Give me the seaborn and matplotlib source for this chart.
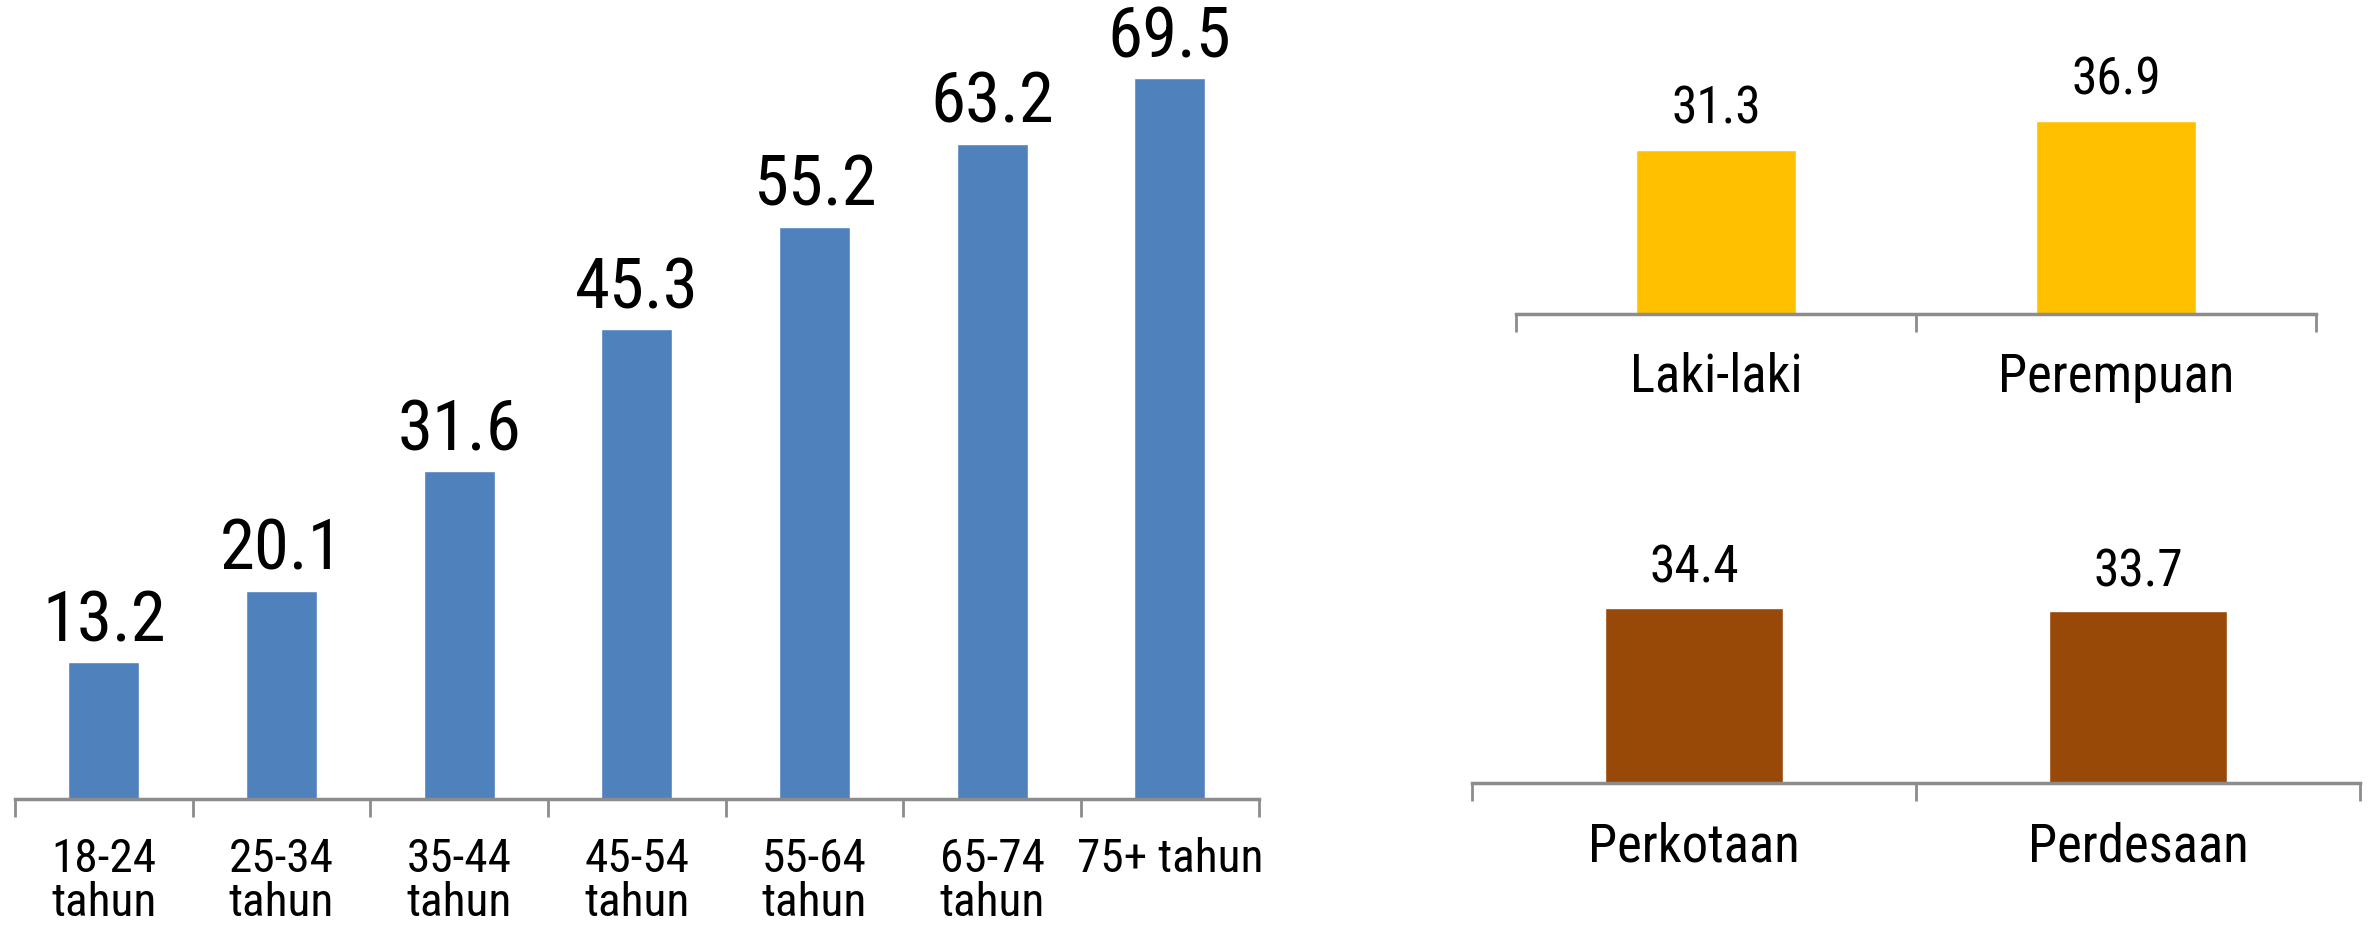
import matplotlib
matplotlib.use("Agg")
import matplotlib.pyplot as plt
from matplotlib import font_manager as fm
import seaborn as sns
import numpy as np

# ---- data ----
age_groups = ["18-24\ntahun", "25-34\ntahun", "35-44\ntahun", "45-54\ntahun",
              "55-64\ntahun", "65-74\ntahun", "75+ tahun"]
age_values = [13.2, 20.1, 31.6, 45.3, 55.2, 63.2, 69.5]

sex_groups = ["Laki-laki", "Perempuan"]
sex_values = [31.3, 36.9]

area_groups = ["Perkotaan", "Perdesaan"]
area_values = [34.4, 33.7]

sns.set_theme(style="white")
plt.rcParams['font.family'] = ['Liberation Sans', 'DejaVu Sans']


def pick_narrow_font():
    prefs = [("liberation sans narrow", "condensed"), ("arial narrow", "condensed"),
             ("roboto condensed", None), ("noto sans", "condensed"),
             ("open sans", "condensed"), ("dejavu sans", "condensed"),
             ("noto sans", "semi-condensed"), ("", "condensed"), ("", "semi-condensed")]
    ok_w = (400, "normal", "regular", "book")
    fonts = [f for f in fm.fontManager.ttflist
             if f.style == "normal" and f.weight in ok_w]
    for name, stretch in prefs:
        for f in fonts:
            n = f.name.lower()
            if name and not n.startswith(name):
                continue
            if stretch is not None and f.stretch != stretch and "narrow" not in n \
                    and "condensed" not in n:
                continue
            if stretch is None or f.stretch == stretch or "narrow" in n or "condensed" in n:
                if name == "" and f.stretch != stretch:
                    continue
                return f.fname
    return None


fname = pick_narrow_font()


def fp(size):
    if fname:
        return fm.FontProperties(fname=fname, size=size)
    return fm.FontProperties(family=['Liberation Sans', 'DejaVu Sans'], size=size * 0.82)


AXIS_COLOR = "#8c8c8c"

fig = plt.figure(figsize=(23.69, 9.34), dpi=100)

ax1 = fig.add_axes([0.0063, 0.1445, 0.525, 0.855])
ax2 = fig.add_axes([0.640, 0.6638, 0.3377, 0.2934])
ax3 = fig.add_axes([0.6214, 0.1617, 0.3748, 0.303])


def style(ax, cats, vals, color, ymax, vfs, tfs, label_pad, val_off):
    sns.barplot(x=cats, y=vals, color=color, width=0.4, saturation=1, ax=ax)
    n = len(cats)
    ax.set_xlim(-0.5, n - 0.5)
    ax.set_ylim(0, ymax)
    for s in ["top", "right", "left"]:
        ax.spines[s].set_visible(False)
    ax.spines["bottom"].set_color(AXIS_COLOR)
    ax.spines["bottom"].set_linewidth(2.5)
    ax.set_yticks([])
    ax.set_xticks(np.arange(n))
    ax.set_xticklabels(cats, fontproperties=fp(tfs), color="black", linespacing=1.0)
    ax.tick_params(axis="x", which="major", length=0, pad=label_pad)
    ax.set_xticks(np.arange(n + 1) - 0.5, minor=True)
    ax.tick_params(axis="x", which="minor", length=13, width=2, color=AXIS_COLOR,
                   direction="out", bottom=True)
    ax.set_xlabel("")
    ax.set_ylabel("")
    ax.patch.set_alpha(0)
    for i, v in enumerate(vals):
        ax.annotate(f"{v:.1f}", (i, v), xytext=(0, val_off), textcoords="offset points",
                    ha="center", va="baseline", fontproperties=fp(vfs), color="black")


style(ax1, age_groups, age_values, "#4F81BD", 77.0, 51, 34, 27, 15)
style(ax2, sex_groups, sex_values, "#FFC000", 52.3, 37, 38, 27, 19)
style(ax3, area_groups, area_values, "#984807", 55.6, 37, 38, 28, 18)

fig.savefig("out.png", dpi=100)
